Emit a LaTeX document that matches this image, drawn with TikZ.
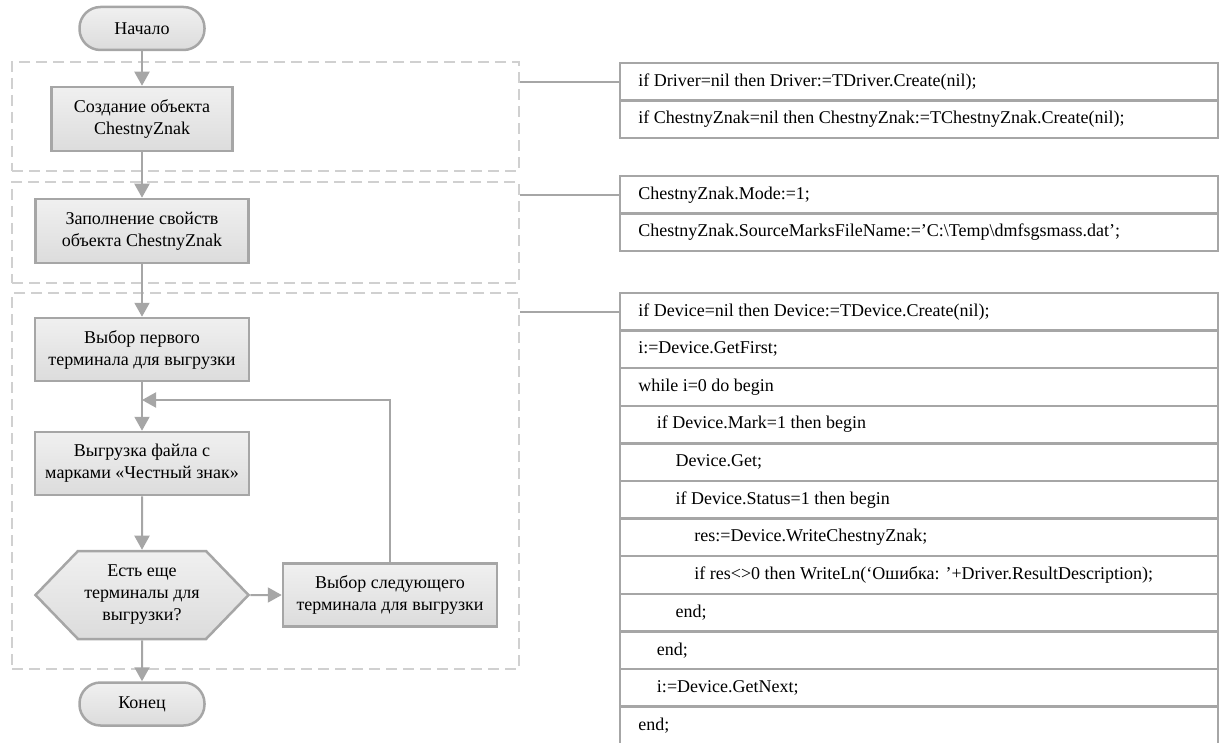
\documentclass[tikz,border=0pt]{standalone}
\usepackage{fontspec}
\setmainfont{Liberation Serif}
\usetikzlibrary{arrows.meta,shapes.symbols}

\definecolor{boxedge}{HTML}{A6A6A6}
\definecolor{boxtop}{HTML}{F0F0F0}
\definecolor{boxbot}{HTML}{DCDCDC}
\definecolor{groupgray}{HTML}{D0D0D0}
\definecolor{linegray}{HTML}{A6A6A6}

\begin{document}
\begin{tikzpicture}[x=1pt, y=-1pt, >={Triangle[length=14pt, width=15pt]},
    every node/.style={font=\fontsize{18}{22}\selectfont},
    flowbox/.style={draw=boxedge, line width=2.5pt, top color=boxtop, bottom color=boxbot,
      minimum width=214pt, minimum height=63pt, align=center, inner sep=0pt},
    termbox/.style={flowbox, rounded corners=21pt, minimum width=125pt, minimum height=43pt},
    hexbox/.style={flowbox, shape=signal, signal to=west and east, signal pointer angle=92,
      minimum width=213pt, minimum height=88pt},
    groupbox/.style={draw=groupgray, line width=2.5pt, dash pattern=on 11pt off 6pt,
      minimum width=507pt, inner sep=0pt},
    flowarrow/.style={->, draw=linegray, line width=2pt, color=linegray},
    tieline/.style={draw=linegray, line width=2pt},
    coderow/.style={draw=boxedge, line width=2.5pt, minimum width=598pt, minimum height=37.6pt, inner sep=0pt}]
    \useasboundingbox (0,0) rectangle (1220,743);

    % Groups
    \node[groupbox, minimum height=109pt] (grp1) at (265.5,116.5) {};
    \node[groupbox, minimum height=101pt] (grp2) at (265.5,232.5) {};
    \node[groupbox, minimum height=376pt] (grp3) at (265.5,481) {};

    % Flowchart
    \node[termbox] (start) at (142,28.5) {Начало};
    \node[flowbox, minimum width=181pt, minimum height=64pt] (create) at (142,119) {Создание объекта\\ChestnyZnak};
    \node[flowbox, minimum width=213pt, minimum height=64pt] (fill) at (142,231) {Заполнение свойств\\объекта ChestnyZnak};
    \node[flowbox] (first) at (142,349.5) {Выбор первого\\терминала для выгрузки};
    \node[flowbox] (upload) at (142,463.5) {Выгрузка файла с\\марками «Честный знак»};
    \node[hexbox] (more) at (142,595) {Есть еще\\терминалы для\\выгрузки?};
    \node[flowbox] (next) at (390,595) {Выбор следующего\\терминала для выгрузки};
    \node[termbox] (stop) at (142,704) {Конец};
    \coordinate (back) at (142,400);

    \draw[flowarrow] (start) -- (create);
    \draw[flowarrow] (create) -- (fill);
    \draw[flowarrow] (fill) -- (first);
    \draw[flowarrow] (first) -- (upload);
    \draw[flowarrow] (upload) -- (more);
    \draw[flowarrow] (more) -- (next);
    \draw[flowarrow] (more) -- (stop);
    \draw[flowarrow] (next.north) |- (back);

    % Code tables
    \foreach \lvl/\txt [count=\i] in {0/{if Driver=nil then Driver:=TDriver.Create(nil);},
        0/{if ChestnyZnak=nil then ChestnyZnak:=TChestnyZnak.Create(nil);}} {
      \node[coderow] (tab1-\i) at (919,{63+(\i-0.5)*37.6}) {};
      \node[anchor=west] at ([xshift={16+\lvl*18.7}]tab1-\i.west) {\txt};
    }
    \foreach \lvl/\txt [count=\i] in {0/{ChestnyZnak.Mode:=1;},
        0/{ChestnyZnak.SourceMarksFileName:=’C:\textbackslash Temp\textbackslash dmfsgsmass.dat’;}} {
      \node[coderow] (tab2-\i) at (919,{176+(\i-0.5)*37.6}) {};
      \node[anchor=west] at ([xshift={16+\lvl*18.7}]tab2-\i.west) {\txt};
    }
    \foreach \lvl/\txt [count=\i] in {0/{if Device=nil then Device:=TDevice.Create(nil);},
        0/{i:=Device.GetFirst;},
        0/{while i=0 do begin},
        1/{if Device.Mark=1 then begin},
        2/{Device.Get;},
        2/{if Device.Status=1 then begin},
        3/{res:=Device.WriteChestnyZnak;},
        3/{if res<>0 then WriteLn(‘Ошибка: ’+Driver.ResultDescription);},
        2/{end;},
        1/{end;},
        1/{i:=Device.GetNext;},
        0/{end;}} {
      \node[coderow] (tab3-\i) at (919,{293+(\i-0.5)*37.6}) {};
      \node[anchor=west] at ([xshift={16+\lvl*18.7}]tab3-\i.west) {\txt};
    }

    % Ties from groups to tables
    \draw[tieline] (grp1.east |- tab1-1.west) -- (tab1-1.west);
    \draw[tieline] (grp2.east |- tab2-1.west) -- (tab2-1.west);
    \draw[tieline] (grp3.east |- tab3-1.west) -- (tab3-1.west);
\end{tikzpicture}
\end{document}
